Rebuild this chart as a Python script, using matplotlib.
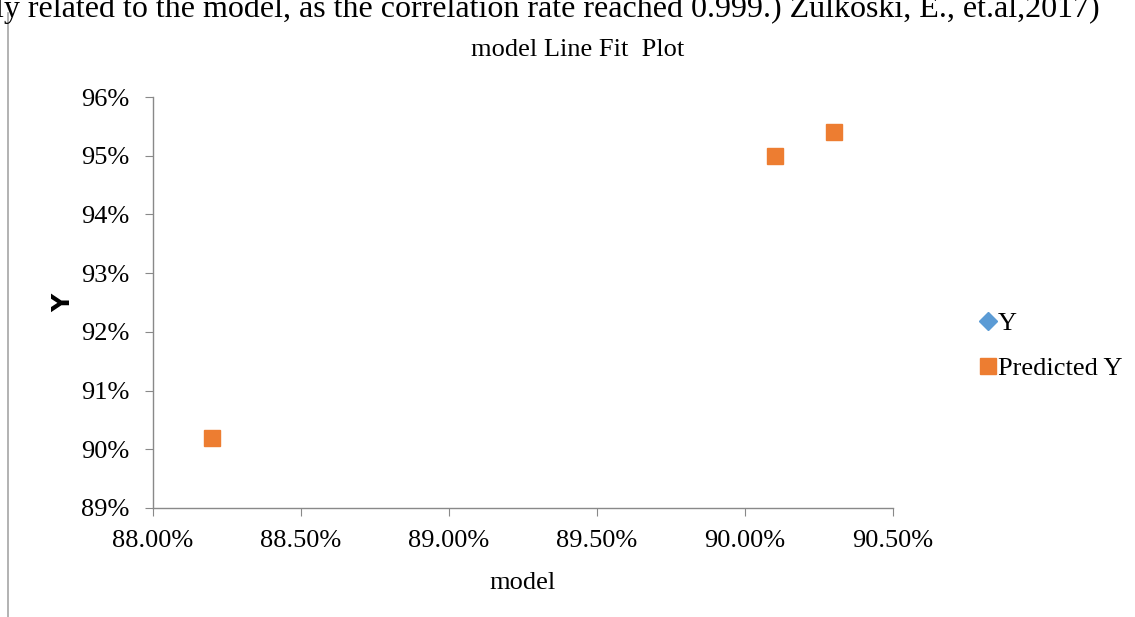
import numpy as np
import matplotlib.pyplot as plt
from matplotlib.lines import Line2D
from matplotlib.ticker import PercentFormatter

plt.rcParams['font.family'] = ['Liberation Serif', 'DejaVu Serif']

# data
model = [0.882, 0.901, 0.903]
y_actual = [0.902, 0.950, 0.954]
y_pred = [0.902, 0.950, 0.954]

x_ticks = [0.88, 0.885, 0.89, 0.895, 0.90, 0.905]
y_ticks = [0.89, 0.90, 0.91, 0.92, 0.93, 0.94, 0.95, 0.96]

blue = '#5B9BD5'
orange = '#ED7D31'
gray = '#898989'

fig = plt.figure(figsize=(11.35, 6.17), dpi=100)
ax = fig.add_axes([153/1135, 1 - 508/617, 740/1135, 411/617])

# actual Y sits under the predicted squares
ax.plot(model, y_actual, linestyle='none', marker='D', color=blue, markersize=6)
ax.plot(model, y_pred, linestyle='none', marker='s', color=orange, markersize=11.5)

ax.set_xlim(0.88, 0.905)
ax.set_ylim(0.89, 0.96)
ax.set_xticks(x_ticks)
ax.set_yticks(y_ticks)
ax.xaxis.set_major_formatter(PercentFormatter(1.0, decimals=2))
ax.yaxis.set_major_formatter(PercentFormatter(1.0, decimals=0))

for s in ['top', 'right']:
	ax.spines[s].set_visible(False)
for s in ['left', 'bottom']:
	ax.spines[s].set_color(gray)
	ax.spines[s].set_linewidth(1)
ax.tick_params(direction='out', length=6, color=gray, labelsize=19)
ax.tick_params(axis='y', pad=11)
ax.tick_params(axis='x', pad=10)

ax.set_xlabel('model', fontsize=19, labelpad=14)
ax.set_ylabel('Y', fontsize=18, fontweight='bold', family='DejaVu Sans', labelpad=4)

fig.text(578/1135, 1 - 50/617, 'model Line Fit  Plot', ha='center', va='center', fontsize=19)
fig.text(-0.004, 1 - 17/617, 'ly related to the model, as the correlation rate reached 0.999.) Zulkoski, E., et.al,2017)',
	ha='left', va='baseline', fontsize=23)

# chart frame edge on the left
fig.add_artist(Line2D([8/1135, 8/1135], [0, 1 - 13/617], color='#a6a6a6', linewidth=1.2))

handles = [
	Line2D([], [], linestyle='none', marker='D', color=blue, markersize=9),
	Line2D([], [], linestyle='none', marker='s', color=orange, markersize=11.5),
]
fig.legend(handles, ['Y', 'Predicted Y'], loc='center left', bbox_to_anchor=(970/1135, 1 - 346/617),
	frameon=False, fontsize=19, handlelength=0.6, handletextpad=0.05, labelspacing=0.8, borderaxespad=0)

fig.savefig('out.png', dpi=100)
